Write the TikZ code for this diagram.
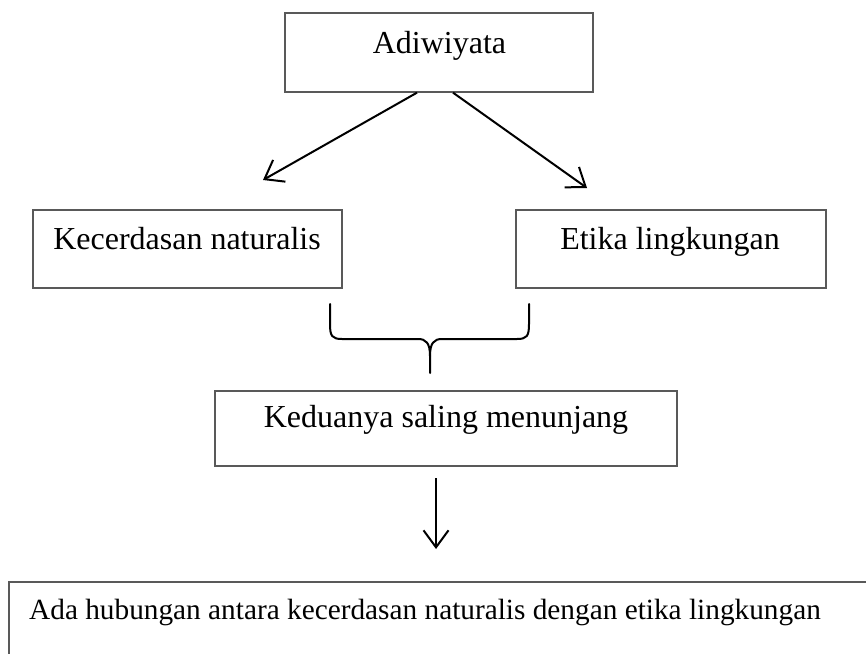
\documentclass[tikz,border=0pt]{standalone}
\usepackage{fontspec}
\setmainfont{Liberation Serif}
\usetikzlibrary{arrows.meta}
\tikzset{
  boxnode/.style={draw=black!65, line width=1.3pt, rectangle, inner sep=0pt},
  txt/.style={font=\fontsize{32}{38}\selectfont, inner sep=0pt, anchor=base},
  arr/.style={line width=2pt, -{Straight Barb[length=17pt,width=25pt,line width=2pt]}},
  bracestyle/.style={line width=2pt, line cap=round, line join=round}
}
\begin{document}
\begin{tikzpicture}[x=1pt,y=-1pt]
\useasboundingbox (0,0) rectangle (866,653);
\clip (0,0) rectangle (866,653);
% boxes
\node[boxnode, minimum width=308pt, minimum height=79pt] (top) at (439,52.5) {};
\node[txt] (toptxt) at (439.5,53) {Adiwiyata};
\node[boxnode, minimum width=309pt, minimum height=78pt] (left) at (187.5,249) {};
\node[txt] (lefttxt) at (187,249) {Kecerdasan naturalis};
\node[boxnode, minimum width=310pt, minimum height=78pt] (right) at (671,249) {};
\node[txt] (righttxt) at (670,249) {Etika lingkungan};
\node[boxnode, minimum width=462pt, minimum height=75pt] (mid) at (446,428.5) {};
\node[txt] (midtxt) at (446,427) {Keduanya saling menunjang};
\node[boxnode, minimum width=900pt, minimum height=120pt] (bottom) at (459,642) {};
\node[txt, anchor=base west, font=\fontsize{29.3}{35}\selectfont] (bottomtxt) at (29,619) {Ada hubungan antara kecerdasan naturalis dengan etika lingkungan};
% arrows
\coordinate (la) at (263,180);
\coordinate (ra) at (587,188);
\coordinate (ds) at (436,478);
\coordinate (de) at (436,549);
\draw[arr] ([xshift=-22pt]top.south) -- (la);
\draw[arr] ([xshift=14pt]top.south) -- (ra);
\draw[arr] (ds) -- (de);
% brace
\coordinate (bl) at (330,304);
\coordinate (br) at (529,304);
\coordinate (bc) at (430,373);
\draw[bracestyle] (bl) -- (330,324) .. controls (330,336) and (332,339) .. (342,339)
  -- (418,339) .. controls (426,339) and (430,343) .. (430,356) -- (bc);
\draw[bracestyle] (br) -- (529,324) .. controls (529,336) and (527,339) .. (517,339)
  -- (442,339) .. controls (434,339) and (430,343) .. (430,356);
\end{tikzpicture}
\end{document}
